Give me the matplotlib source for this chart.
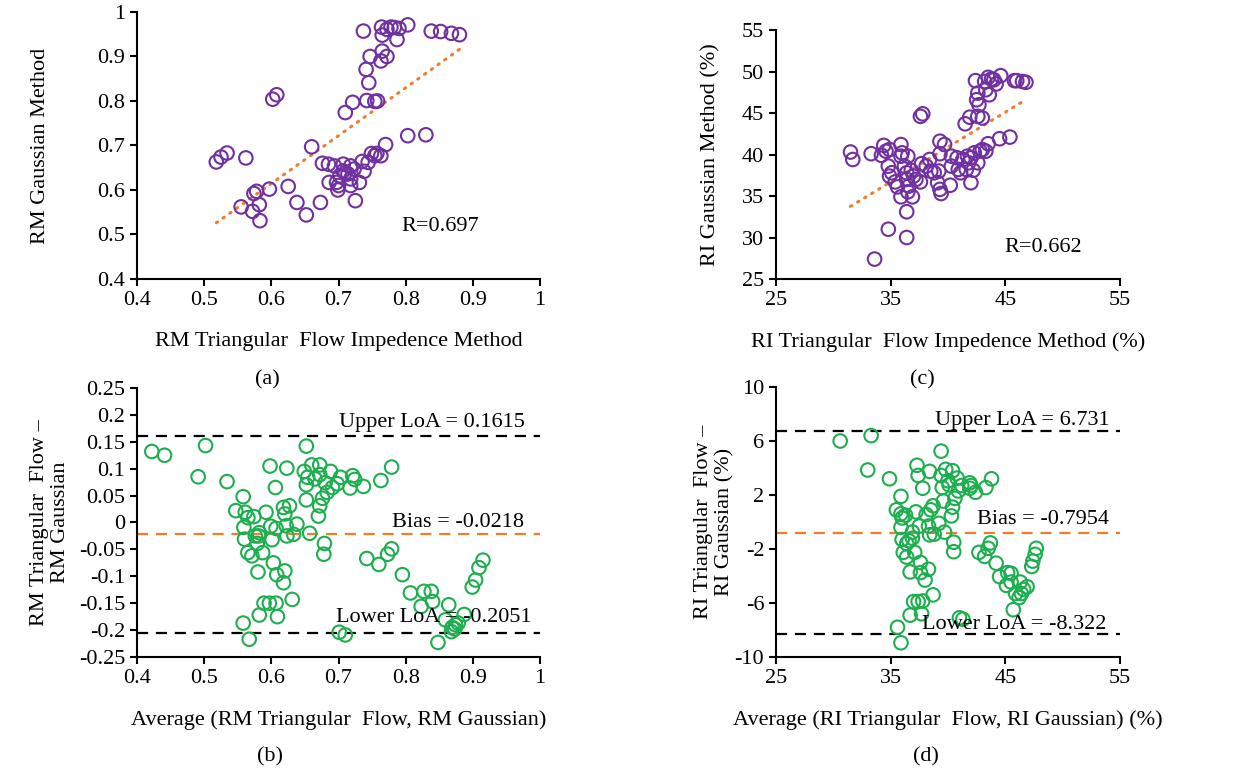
import numpy as np
import matplotlib
matplotlib.use("Agg")
import matplotlib.pyplot as plt

plt.rcParams['font.family'] = ['Liberation Serif', 'DejaVu Serif']
plt.rcParams['font.size'] = 16
plt.rcParams['axes.unicode_minus'] = False

# RM: triangular flow impedance method vs gaussian method
rm_tri = [0.737, 0.764, 0.772, 0.778, 0.783, 0.790, 0.803, 0.765, 0.787, 0.838,
          0.852, 0.868, 0.880, 0.747, 0.765, 0.763, 0.772, 0.741, 0.745, 0.742,
          0.754, 0.758, 0.721, 0.710, 0.602, 0.608, 0.803, 0.830, 0.770, 0.749,
          0.757, 0.763, 0.744, 0.735, 0.738, 0.731, 0.676, 0.685, 0.694, 0.707,
          0.718, 0.710, 0.714, 0.702, 0.686, 0.697, 0.700, 0.699, 0.718, 0.718,
          0.723, 0.725, 0.673, 0.660, 0.638, 0.652, 0.625, 0.597, 0.574, 0.578,
          0.582, 0.572, 0.583, 0.555, 0.562, 0.518, 0.525, 0.534, 0.754, 0.707]
rm_gauss = [0.957, 0.966, 0.961, 0.966, 0.965, 0.963, 0.971, 0.948, 0.938, 0.957,
            0.956, 0.952, 0.949, 0.900, 0.912, 0.890, 0.900, 0.871, 0.841, 0.801,
            0.799, 0.800, 0.797, 0.774, 0.804, 0.814, 0.722, 0.724, 0.702, 0.682,
            0.682, 0.677, 0.662, 0.664, 0.642, 0.617, 0.660, 0.658, 0.654, 0.658,
            0.654, 0.639, 0.636, 0.632, 0.617, 0.617, 0.610, 0.600, 0.610, 0.625,
            0.647, 0.576, 0.572, 0.697, 0.572, 0.544, 0.608, 0.602, 0.592, 0.597,
            0.567, 0.552, 0.531, 0.562, 0.672, 0.663, 0.674, 0.683, 0.677, 0.643]

# RI (%): triangular flow impedance method vs gaussian method
ri_tri = [31.5, 31.7, 33.3, 33.6, 34.2, 34.4, 34.6, 34.9, 34.8, 34.8,
          35.1, 34.9, 35.4, 35.6, 35.9, 35.9, 36.0, 35.9, 36.2, 36.4,
          36.4, 36.5, 36.4, 36.4, 36.5, 36.6, 36.9, 36.8, 37.0, 37.2,
          37.6, 37.8, 37.6, 37.7, 38.1, 38.4, 38.5, 38.8, 39.2, 39.1,
          39.3, 39.4, 39.3, 39.7, 39.3, 40.2, 40.3, 40.3, 40.8, 40.9,
          41.1, 41.3, 41.5, 41.9, 41.6, 41.8, 42.0, 42.0, 42.2, 42.4,
          42.5, 42.7, 42.6, 42.6, 42.6, 43.0, 42.8, 43.0, 43.3, 43.5,
          43.2, 43.5, 43.3, 43.6, 43.8, 44.0, 44.2, 44.6, 44.5, 45.4,
          45.8, 46.0, 46.5, 46.8, 41.7, 42.3]
ri_gauss = [40.3, 39.4, 40.1, 27.4, 39.9, 41.1, 40.4, 40.6, 38.6, 31.0,
            37.8, 37.4, 36.7, 36.1, 41.2, 39.8, 40.2, 34.9, 38.6, 37.8,
            37.0, 39.8, 33.1, 30.0, 35.5, 36.2, 34.9, 38.1, 37.4, 37.0,
            44.6, 44.9, 36.7, 38.9, 38.6, 39.4, 38.0, 37.8, 38.0, 36.6,
            35.8, 35.3, 41.6, 41.2, 40.1, 36.3, 39.8, 38.6, 39.6, 38.2,
            37.8, 39.4, 43.7, 44.5, 38.2, 39.0, 39.6, 36.6, 38.1, 48.9,
            46.6, 46.0, 47.4, 39.0, 44.6, 44.4, 40.4, 40.6, 40.4, 41.3,
            48.8, 49.3, 47.8, 47.2, 49.1, 49.0, 48.5, 49.5, 41.9, 42.1,
            48.9, 48.9, 48.8, 48.7, 39.8, 40.2]

# Bland-Altman, RM
rm_avg = [0.422, 0.441, 0.491, 0.502, 0.534, 0.547, 0.558, 0.561, 0.565, 0.559,
          0.560, 0.565, 0.571, 0.574, 0.576, 0.579, 0.581, 0.582, 0.587, 0.580,
          0.592, 0.598, 0.599, 0.601, 0.603, 0.606, 0.607, 0.608, 0.618, 0.620,
          0.623, 0.622, 0.623, 0.620, 0.618, 0.627, 0.633, 0.638, 0.631, 0.589,
          0.597, 0.607, 0.582, 0.609, 0.558, 0.567, 0.652, 0.649, 0.654, 0.652,
          0.652, 0.657, 0.660, 0.665, 0.672, 0.672, 0.670, 0.672, 0.676, 0.679,
          0.678, 0.683, 0.680, 0.688, 0.691, 0.698, 0.703, 0.701, 0.710, 0.717,
          0.721, 0.724, 0.737, 0.742, 0.760, 0.763, 0.773, 0.779, 0.779, 0.795,
          0.807, 0.823, 0.827, 0.838, 0.840, 0.848, 0.864, 0.859, 0.869, 0.874,
          0.878, 0.868, 0.873, 0.887, 0.899, 0.904, 0.909, 0.915]
rm_diff = [0.132, 0.125, 0.085, 0.143, 0.076, 0.022, 0.048, 0.019, 0.009, -0.009,
           -0.031, -0.056, -0.062, 0.011, -0.025, -0.039, -0.025, -0.019, -0.056, -0.092,
           0.019, 0.105, -0.007, -0.032, -0.075, 0.065, -0.011, -0.097, 0.028, 0.016,
           0.101, -0.006, -0.025, -0.090, -0.112, 0.031, -0.022, -0.003, -0.143, -0.150,
           -0.150, -0.150, -0.172, -0.175, -0.187, -0.217, 0.142, 0.095, 0.084, 0.070,
           0.042, -0.020, 0.107, 0.081, 0.107, 0.089, 0.012, 0.031, 0.045, -0.039,
           -0.059, 0.056, 0.074, 0.095, 0.065, 0.072, 0.084, -0.204, -0.209, 0.064,
           0.087, 0.080, 0.067, -0.067, -0.078, 0.078, -0.059, -0.049, 0.103, -0.097,
           -0.131, -0.156, -0.128, -0.128, -0.147, -0.223, -0.153, -0.181, -0.195, -0.190,
           -0.187, -0.203, -0.198, -0.171, -0.120, -0.107, -0.084, -0.070]
rm_upper, rm_bias, rm_lower = 0.1615, -0.0218, -0.2051

# Bland-Altman, RI (%)
ri_avg = [30.6, 33.3, 33.0, 34.9, 35.5, 35.9, 35.9, 35.9, 36.0, 36.0,
          36.3, 36.1, 36.4, 36.4, 36.6, 36.7, 36.7, 35.6, 35.9, 36.9,
          36.9, 37.1, 37.0, 37.2, 37.3, 37.4, 37.5, 37.6, 37.6, 37.4,
          37.8, 37.7, 37.8, 38.0, 38.1, 38.3, 38.4, 38.3, 38.4, 38.5,
          38.7, 38.7, 38.8, 39.2, 39.4, 39.4, 39.5, 39.6, 39.7, 39.8,
          40.0, 40.1, 40.3, 40.4, 40.4, 40.5, 40.5, 40.6, 40.8, 40.9,
          41.0, 41.3, 41.2, 41.9, 41.9, 42.0, 42.4, 42.7, 43.2, 43.3,
          43.5, 43.7, 43.8, 44.2, 44.5, 45.1, 45.2, 45.5, 45.5, 45.7,
          45.9, 46.2, 46.3, 46.4, 46.6, 46.9, 47.3, 47.4, 47.6, 47.7]
ri_diff = [6.0, 6.4, 3.85, 3.2, 0.9, 1.9, 0.6, -0.4, -1.3, 0.3,
           0.5, -2.25, -2.6, -1.6, -1.4, -3.7, -6.9, -7.8, -8.95, -0.75,
           -1.2, -2.25, -5.9, 0.75, 4.2, 3.45, -0.3, -3.0, -3.75, -5.9,
           -5.85, -6.8, 2.5, -4.3, 0.55, -3.5, 3.75, -0.3, -0.95, 0.9,
           1.2, -5.4, -0.9, -0.1, 5.25, 3.45, 2.55, 1.55, -0.75, 3.9,
           3.05, 2.75, 0.45, 3.8, 1.1, -1.5, -2.2, 1.75, 3.25, 2.3,
           -7.1, -7.2, 2.7, 2.9, 2.5, 2.7, 2.2, -2.25, -2.55, 2.55,
           -1.95, -1.55, 3.2, -3.05, -4.05, -4.7, -3.75, -3.8, -4.45, -6.5,
           -5.3, -5.6, -4.45, -5.3, -5.0, -4.8, -3.3, -2.9, -2.4, -1.95]
ri_upper, ri_bias, ri_lower = 6.731, -0.7954, -8.322

purple = '#7030A0'
green = '#1DAE4F'
orange = '#ED7D31'

fig = plt.figure(figsize=(12.56, 7.72), dpi=100)
ax_a = fig.add_axes([0.1091, 0.6386, 0.3209, 0.3459])
ax_c = fig.add_axes([0.6178, 0.6386, 0.2739, 0.3225])
ax_b = fig.add_axes([0.1091, 0.1490, 0.3209, 0.3484])
ax_d = fig.add_axes([0.6178, 0.1490, 0.2739, 0.3497])


def style_axes(ax):
    for side in ['top', 'right']:
        ax.spines[side].set_visible(False)
    for side in ['left', 'bottom']:
        ax.spines[side].set_linewidth(1.5)
    ax.tick_params(direction='out', length=5, width=1.5, labelsize=16)


def scatter_with_trend(ax, x, y, r_text, r_pos):
    ax.scatter(x, y, s=95, facecolors='none', edgecolors=purple, linewidths=1.5, zorder=3)
    slope, icpt = np.polyfit(x, y, 1)
    xs = np.array([min(x), max(x)])
    ax.plot(xs, slope * xs + icpt, color=orange, lw=2.2,
            linestyle=(0, (0.5, 2.2)), dash_capstyle='round', zorder=2)
    ax.text(r_pos[0], r_pos[1], r_text, ha='center', va='center', fontsize=16)
    style_axes(ax)


def bland_altman(ax, avg, diff, upper, bias, lower):
    ax.scatter(avg, diff, s=95, facecolors='none', edgecolors=green, linewidths=1.5, zorder=3)
    ax.axhline(upper, color='black', lw=1.6, linestyle=(0, (5, 3.5)), zorder=2)
    ax.axhline(bias, color=orange, lw=1.6, linestyle=(0, (5, 3.5)), zorder=2)
    ax.axhline(lower, color='black', lw=1.6, linestyle=(0, (5, 3.5)), zorder=2)
    style_axes(ax)


# (a) RM scatter
scatter_with_trend(ax_a, rm_tri, rm_gauss, 'R=0.697', (0.852, 0.517))
ax_a.set_xlim(0.4, 1.0)
ax_a.set_ylim(0.4, 1.0)
ax_a.set_xticks(np.arange(0.4, 1.01, 0.1))
ax_a.set_xticklabels(['0.4', '0.5', '0.6', '0.7', '0.8', '0.9', '1'])
ax_a.set_yticks(np.arange(0.4, 1.01, 0.1))
ax_a.set_yticklabels(['0.4', '0.5', '0.6', '0.7', '0.8', '0.9', '1'])
ax_a.set_xlabel('RM Triangular  Flow Impedence Method', labelpad=16)
ax_a.set_ylabel('RM Gaussian Method')
ax_a.yaxis.set_label_coords(-0.215, 0.5)

# (c) RI scatter
scatter_with_trend(ax_c, ri_tri, ri_gauss, 'R=0.662', (48.3, 28.8))
ax_c.set_xlim(25, 55)
ax_c.set_ylim(25, 55)
ax_c.set_xticks([25, 35, 45, 55])
ax_c.set_yticks([25, 30, 35, 40, 45, 50, 55])
ax_c.set_xlabel('RI Triangular  Flow Impedence Method (%)', labelpad=16)
ax_c.set_ylabel('RI Gaussian Method (%)')
ax_c.yaxis.set_label_coords(-0.16, 0.5)

# (b) RM Bland-Altman
bland_altman(ax_b, rm_avg, rm_diff, rm_upper, rm_bias, rm_lower)
ax_b.set_xlim(0.4, 1.0)
ax_b.set_ylim(-0.25, 0.25)
ax_b.set_xticks(np.arange(0.4, 1.01, 0.1))
ax_b.set_xticklabels(['0.4', '0.5', '0.6', '0.7', '0.8', '0.9', '1'])
ax_b.set_yticks(np.arange(-0.25, 0.251, 0.05))
ax_b.set_yticklabels(['-0.25', '-0.2', '-0.15', '-0.1', '-0.05', '0',
                      '0.05', '0.1', '0.15', '0.2', '0.25'])
ax_b.text(0.978, rm_upper + 0.025, 'Upper LoA = %.4f' % rm_upper, ha='right', va='center')
ax_b.text(0.976, rm_bias + 0.022, 'Bias = %.4f' % rm_bias, ha='right', va='center')
ax_b.text(0.987, rm_lower + 0.029, 'Lower LoA = %.4f' % rm_lower, ha='right', va='center')
ax_b.set_xlabel('Average (RM Triangular  Flow, RM Gaussian)', labelpad=16)
ax_b.set_ylabel('RM Triangular  Flow \u2013\nRM Gaussian', linespacing=1.15)
ax_b.yaxis.set_label_coords(-0.166, 0.5)

# (d) RI Bland-Altman
bland_altman(ax_d, ri_avg, ri_diff, ri_upper, ri_bias, ri_lower)
ax_d.set_xlim(25, 55)
ax_d.set_ylim(-10, 10)
ax_d.set_xticks([25, 35, 45, 55])
ax_d.set_yticks([-10, -6, -2, 2, 6, 10])
ax_d.text(54.1, ri_upper + 0.8, 'Upper LoA = %.3f' % ri_upper, ha='right', va='center')
ax_d.text(54.0, ri_bias + 0.95, 'Bias = %.4f' % ri_bias, ha='right', va='center')
ax_d.text(53.8, ri_lower + 0.7, 'Lower LoA = %.3f' % ri_lower, ha='right', va='center')
ax_d.set_xlabel('Average (RI Triangular  Flow, RI Gaussian) (%)', labelpad=16)
ax_d.set_ylabel('RI Triangular  Flow \u2013\nRI Gaussian (%)', linespacing=1.15)
ax_d.yaxis.set_label_coords(-0.12, 0.5)

# panel letters
for lab, xf, yf in [('(a)', 267, 380), ('(c)', 922, 380), ('(b)', 270, 757), ('(d)', 926, 757)]:
    fig.text(xf / 1256, 1 - yf / 772, lab, ha='center', va='center', fontsize=16)

fig.savefig('out.png', dpi=100)
